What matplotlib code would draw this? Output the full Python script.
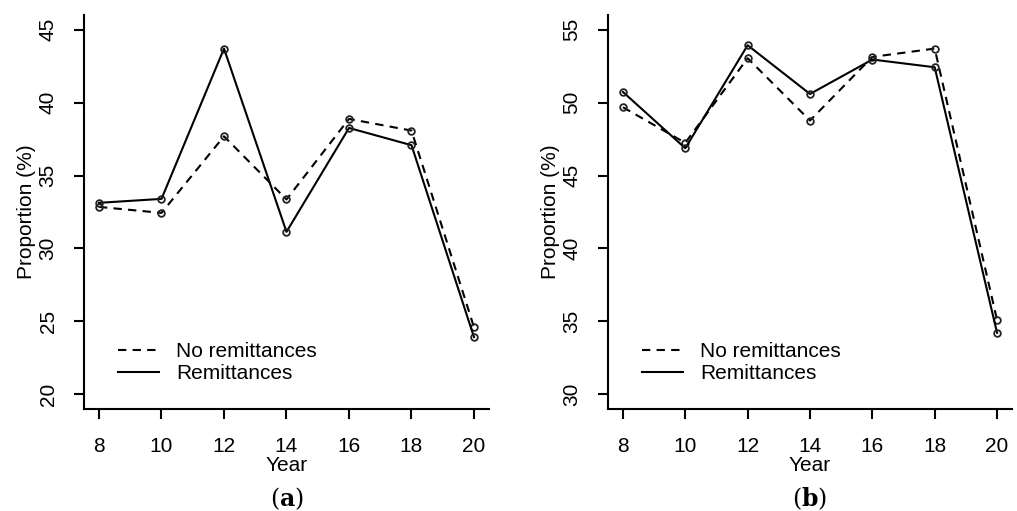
import matplotlib
matplotlib.use("Agg")
import matplotlib.pyplot as plt

plt.rcParams["font.family"] = ["Liberation Sans", "DejaVu Sans"]
plt.rcParams["mathtext.fontset"] = "dejavuserif"

years = [8, 10, 12, 14, 16, 18, 20]

# panel (a)
a_no_remit = [32.85, 32.44, 37.69, 33.36, 38.88, 38.08, 24.61]
a_remit = [33.13, 33.40, 43.70, 31.14, 38.26, 37.08, 23.93]

# panel (b)
b_no_remit = [49.68, 47.24, 53.04, 48.77, 53.13, 53.70, 35.10]
b_remit = [50.73, 46.87, 53.93, 50.59, 52.95, 52.42, 34.22]

x_ticks = [8, 10, 12, 14, 16, 18, 20]
a_yticks = [20, 25, 30, 35, 40, 45]
b_yticks = [30, 35, 40, 45, 50, 55]

FS = 15

fig = plt.figure(figsize=(10.17, 5.11), dpi=100)
ax_a = fig.add_axes([0.0826, 0.1996, 0.3982, 0.771])
ax_b = fig.add_axes([0.5978, 0.1996, 0.3973, 0.771])


def draw_panel(ax, no_remit, remit, yticks, tag):
    ax.plot(years, no_remit, color="black", lw=1.5, dashes=(4, 3),
            marker="o", ms=4.8, mfc="none", mec="#222222", mew=1.3,
            label="No remittances")
    ax.plot(years, remit, color="black", lw=1.5,
            marker="o", ms=4.8, mfc="none", mec="#222222", mew=1.3,
            label="Remittances")
    lo, hi = yticks[0], yticks[-1]
    pad = (hi - lo) * 0.04
    ax.set_ylim(lo - pad, hi + pad)
    ax.set_xlim(8 - 0.48, 20 + 0.48)
    ax.set_xticks(x_ticks)
    ax.set_yticks(yticks)
    ax.spines["top"].set_visible(False)
    ax.spines["right"].set_visible(False)
    for s in ("left", "bottom"):
        ax.spines[s].set_linewidth(1.5)
    ax.tick_params(axis="both", direction="out", length=7, width=1.5,
                   labelsize=FS)
    ax.tick_params(axis="x", pad=13)
    ax.tick_params(axis="y", pad=12)
    for lab in ax.get_yticklabels():
        lab.set_rotation(90)
        lab.set_va("center")
    ax.set_xlabel("Year", fontsize=FS, labelpad=0)
    ax.set_ylabel("Proportion (%)", fontsize=FS, labelpad=2)
    leg = ax.legend(loc="lower left", bbox_to_anchor=(0.084, 0.066),
                    frameon=False, fontsize=FS, handlelength=1.95,
                    handletextpad=0.85, labelspacing=0.15,
                    borderpad=0, borderaxespad=0)
    for h in leg.get_lines():
        h.set_marker("")
    ax.text(0.5, -0.228, "($\\mathbf{%s}$)" % tag, transform=ax.transAxes,
            ha="center", va="center", fontsize=17, family="DejaVu Serif")


draw_panel(ax_a, a_no_remit, a_remit, a_yticks, "a")
draw_panel(ax_b, b_no_remit, b_remit, b_yticks, "b")

fig.savefig("out.png", dpi=100)
